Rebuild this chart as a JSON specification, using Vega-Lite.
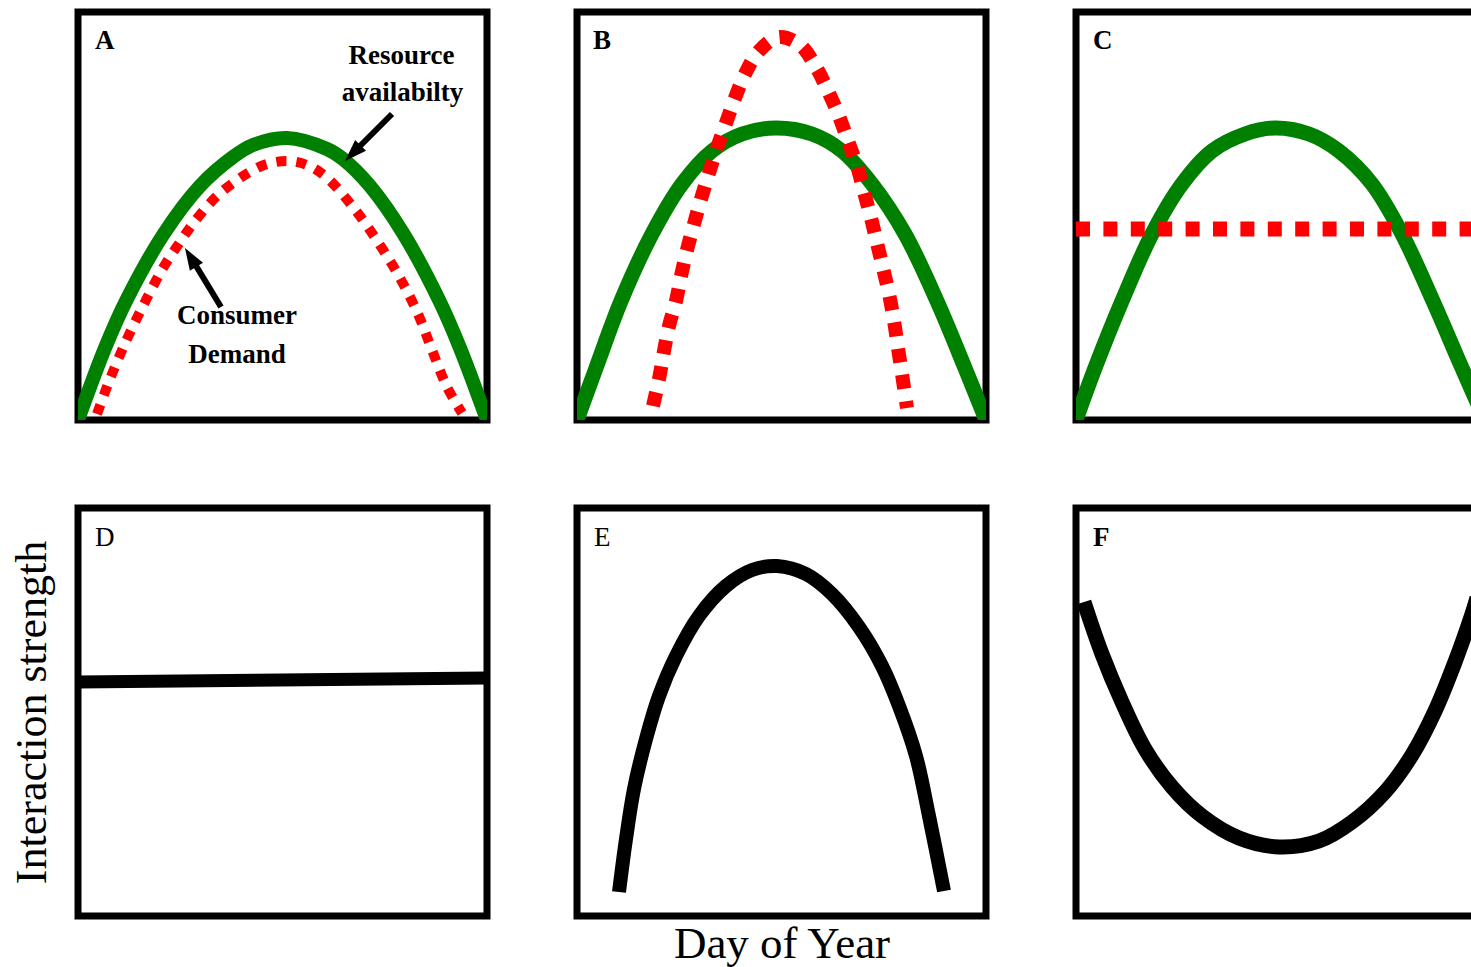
{
  "$schema": "https://vega.github.io/schema/vega-lite/v6.json",
  "padding": {"left": 6, "top": 8, "right": -16, "bottom": 0},
  "background": "white",
  "config": {"view": {"stroke": "black", "strokeWidth": 7}, "axis": {"grid": false}, "font": "Liberation Serif"},
  "columns": 3,
  "bounds": "flush",
  "spacing": {"row": 88, "column": 90},
  "datasets": {
    "curves": [
      {"curve": "A_green", "x": 0, "y": 0}, {"curve": "A_green", "x": 27, "y": 72}, {"curve": "A_green", "x": 48, "y": 119}, {"curve": "A_green", "x": 85, "y": 185}, {"curve": "A_green", "x": 122, "y": 234}, {"curve": "A_green", "x": 155, "y": 263}, {"curve": "A_green", "x": 175, "y": 275}, {"curve": "A_green", "x": 209, "y": 282}, {"curve": "A_green", "x": 249, "y": 271}, {"curve": "A_green", "x": 265, "y": 261}, {"curve": "A_green", "x": 292, "y": 234}, {"curve": "A_green", "x": 325, "y": 187}, {"curve": "A_green", "x": 362, "y": 118}, {"curve": "A_green", "x": 382, "y": 72}, {"curve": "A_green", "x": 409, "y": 0},
      {"curve": "A_red", "x": 19, "y": 6}, {"curve": "A_red", "x": 32, "y": 41}, {"curve": "A_red", "x": 49, "y": 81}, {"curve": "A_red", "x": 67, "y": 118}, {"curve": "A_red", "x": 85, "y": 152}, {"curve": "A_red", "x": 100, "y": 175}, {"curve": "A_red", "x": 114, "y": 195}, {"curve": "A_red", "x": 139, "y": 224}, {"curve": "A_red", "x": 170, "y": 247}, {"curve": "A_red", "x": 189, "y": 256}, {"curve": "A_red", "x": 210, "y": 259}, {"curve": "A_red", "x": 229, "y": 255}, {"curve": "A_red", "x": 247, "y": 244}, {"curve": "A_red", "x": 275, "y": 213}, {"curve": "A_red", "x": 300, "y": 178}, {"curve": "A_red", "x": 322, "y": 142}, {"curve": "A_red", "x": 340, "y": 106}, {"curve": "A_red", "x": 354, "y": 70}, {"curve": "A_red", "x": 369, "y": 33}, {"curve": "A_red", "x": 384, "y": 7},
      {"curve": "B_green", "x": 0, "y": 0}, {"curve": "B_green", "x": 19, "y": 52}, {"curve": "B_green", "x": 44, "y": 119}, {"curve": "B_green", "x": 75, "y": 186}, {"curve": "B_green", "x": 105, "y": 236}, {"curve": "B_green", "x": 135, "y": 269}, {"curve": "B_green", "x": 165, "y": 286}, {"curve": "B_green", "x": 199, "y": 292}, {"curve": "B_green", "x": 235, "y": 286}, {"curve": "B_green", "x": 265, "y": 269}, {"curve": "B_green", "x": 295, "y": 236}, {"curve": "B_green", "x": 328, "y": 186}, {"curve": "B_green", "x": 360, "y": 119}, {"curve": "B_green", "x": 388, "y": 52}, {"curve": "B_green", "x": 409, "y": 0},
      {"curve": "B_red", "x": 76, "y": 14}, {"curve": "B_red", "x": 82, "y": 41}, {"curve": "B_red", "x": 87, "y": 69}, {"curve": "B_red", "x": 92, "y": 94}, {"curve": "B_red", "x": 99, "y": 119}, {"curve": "B_red", "x": 104, "y": 144}, {"curve": "B_red", "x": 110, "y": 170}, {"curve": "B_red", "x": 117, "y": 196}, {"curve": "B_red", "x": 124, "y": 221}, {"curve": "B_red", "x": 132, "y": 247}, {"curve": "B_red", "x": 140, "y": 272}, {"curve": "B_red", "x": 149, "y": 297}, {"curve": "B_red", "x": 158, "y": 322}, {"curve": "B_red", "x": 168, "y": 346}, {"curve": "B_red", "x": 182, "y": 369}, {"curve": "B_red", "x": 202, "y": 383}, {"curve": "B_red", "x": 223, "y": 375}, {"curve": "B_red", "x": 239, "y": 353}, {"curve": "B_red", "x": 251, "y": 329}, {"curve": "B_red", "x": 262, "y": 304}, {"curve": "B_red", "x": 271, "y": 279}, {"curve": "B_red", "x": 280, "y": 254}, {"curve": "B_red", "x": 287, "y": 228}, {"curve": "B_red", "x": 294, "y": 202}, {"curve": "B_red", "x": 300, "y": 177}, {"curve": "B_red", "x": 306, "y": 152}, {"curve": "B_red", "x": 312, "y": 126}, {"curve": "B_red", "x": 317, "y": 99}, {"curve": "B_red", "x": 321, "y": 72}, {"curve": "B_red", "x": 325, "y": 46}, {"curve": "B_red", "x": 330, "y": 12},
      {"curve": "C_green", "x": 0, "y": 0}, {"curve": "C_green", "x": 19, "y": 52}, {"curve": "C_green", "x": 46, "y": 119}, {"curve": "C_green", "x": 76, "y": 186}, {"curve": "C_green", "x": 106, "y": 236}, {"curve": "C_green", "x": 136, "y": 269}, {"curve": "C_green", "x": 169, "y": 286}, {"curve": "C_green", "x": 199, "y": 292}, {"curve": "C_green", "x": 233, "y": 286}, {"curve": "C_green", "x": 263, "y": 269}, {"curve": "C_green", "x": 296, "y": 236}, {"curve": "C_green", "x": 326, "y": 186}, {"curve": "C_green", "x": 357, "y": 119}, {"curve": "C_green", "x": 386, "y": 52}, {"curve": "C_green", "x": 409, "y": 0},
      {"curve": "C_red", "x": 0, "y": 191}, {"curve": "C_red", "x": 409, "y": 191},
      {"curve": "D_black", "x": 0, "y": 234}, {"curve": "D_black", "x": 409, "y": 238},
      {"curve": "E_black", "x": 42, "y": 24}, {"curve": "E_black", "x": 49, "y": 77}, {"curve": "E_black", "x": 57, "y": 127}, {"curve": "E_black", "x": 69, "y": 177}, {"curve": "E_black", "x": 82, "y": 220}, {"curve": "E_black", "x": 99, "y": 260}, {"curve": "E_black", "x": 122, "y": 300}, {"curve": "E_black", "x": 149, "y": 330}, {"curve": "E_black", "x": 175, "y": 346}, {"curve": "E_black", "x": 200, "y": 350}, {"curve": "E_black", "x": 229, "y": 342}, {"curve": "E_black", "x": 255, "y": 322}, {"curve": "E_black", "x": 282, "y": 289}, {"curve": "E_black", "x": 305, "y": 250}, {"curve": "E_black", "x": 322, "y": 210}, {"curve": "E_black", "x": 339, "y": 160}, {"curve": "E_black", "x": 352, "y": 100}, {"curve": "E_black", "x": 367, "y": 25},
      {"curve": "F_black", "x": 8, "y": 314}, {"curve": "F_black", "x": 26, "y": 262}, {"curve": "F_black", "x": 46, "y": 214}, {"curve": "F_black", "x": 69, "y": 167}, {"curve": "F_black", "x": 96, "y": 129}, {"curve": "F_black", "x": 126, "y": 100}, {"curve": "F_black", "x": 163, "y": 78}, {"curve": "F_black", "x": 203, "y": 69}, {"curve": "F_black", "x": 243, "y": 75}, {"curve": "F_black", "x": 276, "y": 94}, {"curve": "F_black", "x": 309, "y": 124}, {"curve": "F_black", "x": 336, "y": 161}, {"curve": "F_black", "x": 359, "y": 205}, {"curve": "F_black", "x": 379, "y": 254}, {"curve": "F_black", "x": 396, "y": 302}, {"curve": "F_black", "x": 401, "y": 318}
    ],
    "letters": [
      {"panel": "A", "label": "A", "x": 17, "y": 371},
      {"panel": "B", "label": "B", "x": 16, "y": 371},
      {"panel": "C", "label": "C", "x": 17, "y": 371},
      {"panel": "D", "label": "D", "x": 17, "y": 370},
      {"panel": "E", "label": "E", "x": 17, "y": 370},
      {"panel": "F", "label": "F", "x": 17, "y": 370}
    ],
    "notes": [
      {"label": "Resource", "x": 323.5, "y": 356},
      {"label": "availabilty", "x": 324.5, "y": 319},
      {"label": "Consumer", "x": 159, "y": 96},
      {"label": "Demand", "x": 159, "y": 57}
    ],
    "arrows": [
      {"arrow": "resource", "x": 314, "y": 306, "x2": 275, "y2": 267},
      {"arrow": "consumer", "x": 143, "y": 113, "x2": 113, "y2": 162.5}
    ],
    "heads": [
      {"arrow": "resource", "x": 274.8, "y": 266.8},
      {"arrow": "consumer", "x": 112.7, "y": 162.6}
    ]
  },
  "concat": [
    {
      "width": 409, "height": 408,
      "encoding": {
        "x": {"field": "x", "type": "quantitative", "scale": {"domain": [0, 409], "nice": false, "zero": false}, "axis": null},
        "y": {"field": "y", "type": "quantitative", "scale": {"domain": [0, 408], "nice": false, "zero": false}, "axis": null}
      },
      "layer": [
        {"data": {"name": "curves"}, "transform": [{"filter": {"field": "curve", "equal": "A_green"}}], "mark": {"type": "line", "color": "#008000", "strokeWidth": 14, "interpolate": "catmull-rom", "clip": true}},
        {"data": {"name": "curves"}, "transform": [{"filter": {"field": "curve", "equal": "A_red"}}], "mark": {"type": "line", "color": "#ff0000", "strokeWidth": 10, "strokeDash": [10, 10], "interpolate": "catmull-rom", "clip": true}},
        {"data": {"name": "arrows"}, "mark": {"type": "rule", "color": "black", "strokeWidth": 6}, "encoding": {"x2": {"field": "x2"}, "y2": {"field": "y2"}}},
        {"data": {"name": "heads"}, "transform": [{"filter": {"field": "arrow", "equal": "resource"}}], "mark": {"type": "point", "shape": "M0,-1L0.7,1L-0.7,1Z", "size": 484, "filled": true, "color": "black", "opacity": 1, "angle": 225}},
        {"data": {"name": "heads"}, "transform": [{"filter": {"field": "arrow", "equal": "consumer"}}], "mark": {"type": "point", "shape": "M0,-1L0.7,1L-0.7,1Z", "size": 484, "filled": true, "color": "black", "opacity": 1, "angle": 328.6}},
        {"data": {"name": "notes"}, "mark": {"type": "text", "font": "Liberation Serif", "fontSize": 27, "fontWeight": "bold", "align": "center", "baseline": "alphabetic", "color": "black"}, "encoding": {"text": {"field": "label"}}},
        {"data": {"name": "letters"}, "transform": [{"filter": {"field": "panel", "equal": "A"}}], "mark": {"type": "text", "font": "Liberation Serif", "fontSize": 27, "fontWeight": "bold", "align": "left", "baseline": "alphabetic", "color": "black"}, "encoding": {"text": {"field": "label"}}}
      ]
    },
    {
      "width": 409, "height": 408,
      "encoding": {
        "x": {"field": "x", "type": "quantitative", "scale": {"domain": [0, 409], "nice": false, "zero": false}, "axis": null},
        "y": {"field": "y", "type": "quantitative", "scale": {"domain": [0, 408], "nice": false, "zero": false}, "axis": null}
      },
      "layer": [
        {"data": {"name": "curves"}, "transform": [{"filter": {"field": "curve", "equal": "B_green"}}], "mark": {"type": "line", "color": "#008000", "strokeWidth": 15, "interpolate": "catmull-rom", "clip": true}},
        {"data": {"name": "curves"}, "transform": [{"filter": {"field": "curve", "equal": "B_red"}}], "mark": {"type": "line", "color": "#ff0000", "strokeWidth": 14, "strokeDash": [14, 12.5], "interpolate": "catmull-rom", "clip": true}},
        {"data": {"name": "letters"}, "transform": [{"filter": {"field": "panel", "equal": "B"}}], "mark": {"type": "text", "font": "Liberation Serif", "fontSize": 27, "fontWeight": "bold", "align": "left", "baseline": "alphabetic", "color": "black"}, "encoding": {"text": {"field": "label"}}}
      ]
    },
    {
      "width": 409, "height": 408,
      "encoding": {
        "x": {"field": "x", "type": "quantitative", "scale": {"domain": [0, 409], "nice": false, "zero": false}, "axis": null},
        "y": {"field": "y", "type": "quantitative", "scale": {"domain": [0, 408], "nice": false, "zero": false}, "axis": null}
      },
      "layer": [
        {"data": {"name": "curves"}, "transform": [{"filter": {"field": "curve", "equal": "C_green"}}], "mark": {"type": "line", "color": "#008000", "strokeWidth": 15, "interpolate": "catmull-rom", "clip": true}},
        {"data": {"name": "curves"}, "transform": [{"filter": {"field": "curve", "equal": "C_red"}}], "mark": {"type": "line", "color": "#ff0000", "strokeWidth": 15, "strokeDash": [14, 13.4], "clip": true}},
        {"data": {"name": "letters"}, "transform": [{"filter": {"field": "panel", "equal": "C"}}], "mark": {"type": "text", "font": "Liberation Serif", "fontSize": 27, "fontWeight": "bold", "align": "left", "baseline": "alphabetic", "color": "black"}, "encoding": {"text": {"field": "label"}}}
      ]
    },
    {
      "width": 409, "height": 408,
      "encoding": {
        "x": {"field": "x", "type": "quantitative", "scale": {"domain": [0, 409], "nice": false, "zero": false}, "axis": null},
        "y": {"field": "y", "type": "quantitative", "scale": {"domain": [0, 408], "nice": false, "zero": false}, "axis": {"title": "Interaction strength", "labels": false, "ticks": false, "domain": false, "grid": false, "titleFont": "Liberation Serif", "titleFontSize": 44, "titleFontWeight": "normal", "titleColor": "black", "titlePadding": 24}}
      },
      "layer": [
        {"data": {"name": "curves"}, "transform": [{"filter": {"field": "curve", "equal": "D_black"}}], "mark": {"type": "line", "color": "black", "strokeWidth": 13, "clip": true}},
        {"data": {"name": "letters"}, "transform": [{"filter": {"field": "panel", "equal": "D"}}], "mark": {"type": "text", "font": "Liberation Serif", "fontSize": 27, "fontWeight": "normal", "align": "left", "baseline": "alphabetic", "color": "black"}, "encoding": {"text": {"field": "label"}}}
      ]
    },
    {
      "width": 409, "height": 408,
      "encoding": {
        "x": {"field": "x", "type": "quantitative", "scale": {"domain": [0, 409], "nice": false, "zero": false}, "axis": {"title": "Day of Year", "labels": false, "ticks": false, "domain": false, "grid": false, "titleFont": "Liberation Serif", "titleFontSize": 45, "titleFontWeight": "normal", "titleColor": "black", "titlePadding": 5}},
        "y": {"field": "y", "type": "quantitative", "scale": {"domain": [0, 408], "nice": false, "zero": false}, "axis": null}
      },
      "layer": [
        {"data": {"name": "curves"}, "transform": [{"filter": {"field": "curve", "equal": "E_black"}}], "mark": {"type": "line", "color": "black", "strokeWidth": 14, "interpolate": "catmull-rom", "clip": true}},
        {"data": {"name": "letters"}, "transform": [{"filter": {"field": "panel", "equal": "E"}}], "mark": {"type": "text", "font": "Liberation Serif", "fontSize": 27, "fontWeight": "normal", "align": "left", "baseline": "alphabetic", "color": "black"}, "encoding": {"text": {"field": "label"}}}
      ]
    },
    {
      "width": 409, "height": 408,
      "encoding": {
        "x": {"field": "x", "type": "quantitative", "scale": {"domain": [0, 409], "nice": false, "zero": false}, "axis": null},
        "y": {"field": "y", "type": "quantitative", "scale": {"domain": [0, 408], "nice": false, "zero": false}, "axis": null}
      },
      "layer": [
        {"data": {"name": "curves"}, "transform": [{"filter": {"field": "curve", "equal": "F_black"}}], "mark": {"type": "line", "color": "black", "strokeWidth": 15, "interpolate": "catmull-rom", "clip": true}},
        {"data": {"name": "letters"}, "transform": [{"filter": {"field": "panel", "equal": "F"}}], "mark": {"type": "text", "font": "Liberation Serif", "fontSize": 27, "fontWeight": "bold", "align": "left", "baseline": "alphabetic", "color": "black"}, "encoding": {"text": {"field": "label"}}}
      ]
    }
  ]
}
